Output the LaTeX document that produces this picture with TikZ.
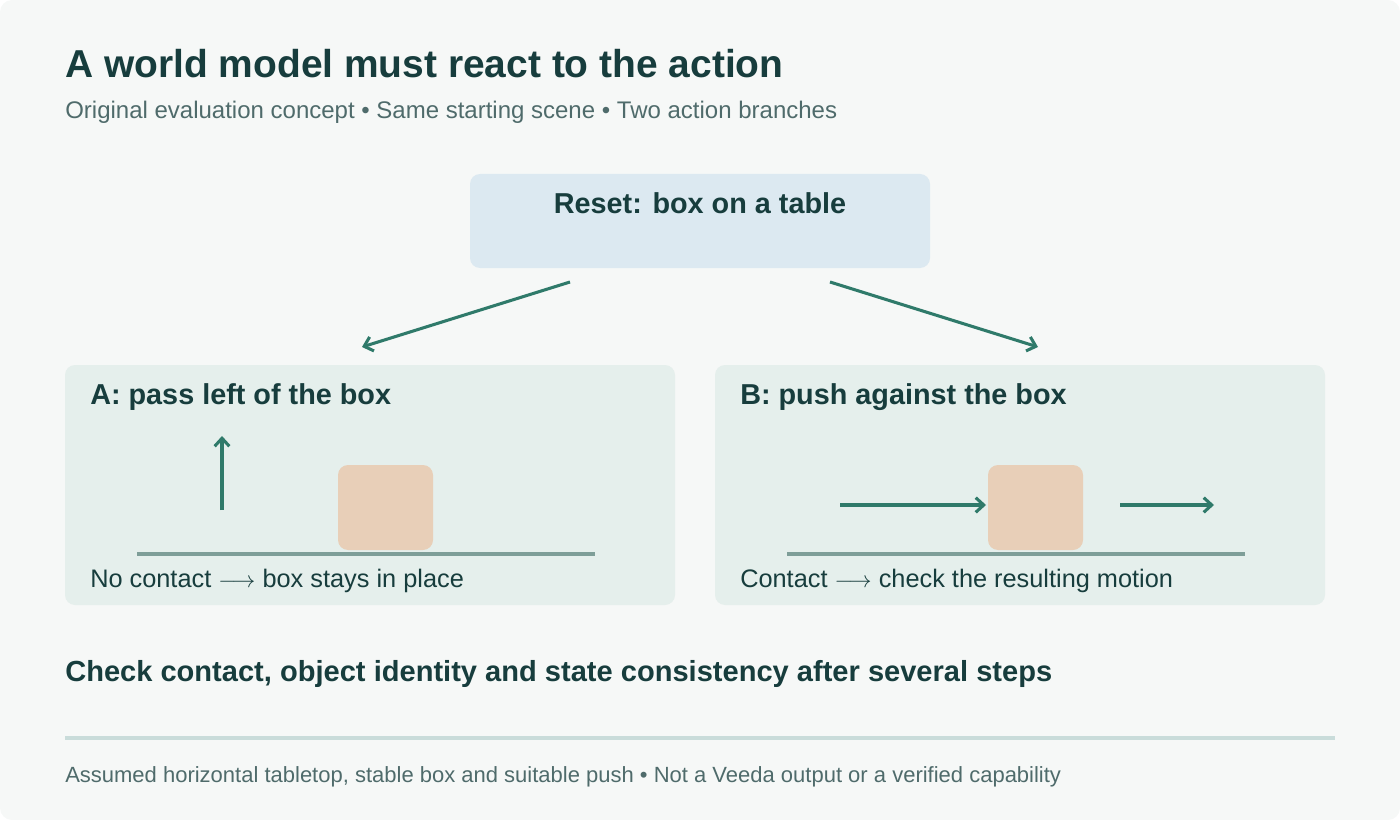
\documentclass[tikz,border=0pt]{standalone}
\usepackage{fontspec}
\setmainfont{Liberation Sans}
\usetikzlibrary{arrows.meta}
\definecolor{bgc}{HTML}{F6F8F7}
\definecolor{resetc}{HTML}{DCE9F1}
\definecolor{panelc}{HTML}{E5EFEC}
\definecolor{boxc}{HTML}{E8CFB8}
\definecolor{arrc}{HTML}{2F7A6A}
\definecolor{tablec}{HTML}{7E9E98}
\definecolor{inkc}{HTML}{173D3D}
\definecolor{subc}{HTML}{4F6B6B}
\definecolor{rulec}{HTML}{C9DCDA}
\newcommand{\contactto}{ $\longrightarrow$ }
\begin{document}
\begin{tikzpicture}[
    x=0.75pt, y=-0.75pt,
    panel/.style={fill=panelc, rounded corners=7.5pt},
    crate/.style={fill=boxc, rounded corners=7.5pt},
    tableline/.style={draw=tablec, line width=2.5pt},
    move/.style={draw=arrc, line width=2.3pt, -{Straight Barb[length=6pt,width=11pt]}},
    heading/.style={anchor=base west, inner sep=0pt, text=inkc, font=\bfseries\fontsize{21.6}{25}\selectfont},
    caption/.style={anchor=base west, inner sep=0pt, text=inkc, font=\fontsize{19}{23}\selectfont}
  ]
  % background
  \fill[bgc, rounded corners=9pt] (0,0) rectangle (1400,820);
  \useasboundingbox (0,0) rectangle (1400,820);

  % title
  \node[heading, font=\bfseries\fontsize{29.2}{34}\selectfont] (title) at (65,78) {A world model must react to the action};
  \node[anchor=base west, inner sep=0pt, text=subc, font=\fontsize{18}{22}\selectfont] (sub) at (65,119)
    {Original evaluation concept • Same starting scene • Two action branches};

  % reset
  \fill[resetc, rounded corners=7.5pt] (470,174) rectangle (930,268);
  \node[heading, anchor=base] (reset) at (700,214) {Reset: box on a table};
  \coordinate (resetL) at (570,282);
  \coordinate (resetR) at (830,282);
  \coordinate (toA) at (362,347);
  \coordinate (toB) at (1038,347);
  \draw[move] (resetL) -- (toA);
  \draw[move] (resetR) -- (toB);

  % branch A
  \fill[panel] (65,365) rectangle (675,605);
  \node[heading] (headA) at (90,404) {A: pass left of the box};
  \fill[crate] (338,465) rectangle (433,550);
  \draw[tableline] (137,554) -- (595,554);
  \coordinate (upA0) at (222,510);
  \coordinate (upA1) at (222,436);
  \draw[move] (upA0) -- (upA1);
  \node[caption] (capA) at (90,587) {No contact\contactto box stays in place};

  % branch B
  \fill[panel] (715,365) rectangle (1325,605);
  \node[heading] (headB) at (740,404) {B: push against the box};
  \fill[crate] (988,465) rectangle (1083,550);
  \draw[tableline] (787,554) -- (1245,554);
  \coordinate (pushB0) at (840,505);
  \coordinate (pushB1) at (986,505);
  \coordinate (slideB0) at (1120,505);
  \coordinate (slideB1) at (1214,505);
  \draw[move] (pushB0) -- (pushB1);
  \draw[move] (slideB0) -- (slideB1);
  \node[caption] (capB) at (740,587) {Contact\contactto check the resulting motion};

  % bottom
  \node[heading, font=\bfseries\fontsize{21.8}{25}\selectfont] (check) at (65,681) {Check contact, object identity and state consistency after several steps};
  \draw[rulec, line width=2.3pt] (65,738) -- (1335,738);
  \node[anchor=base west, inner sep=0pt, text=subc, font=\fontsize{16.5}{19}\selectfont] (foot) at (65,782)
    {Assumed horizontal tabletop, stable box and suitable push • Not a Veeda output or a verified capability};
\end{tikzpicture}
\end{document}
